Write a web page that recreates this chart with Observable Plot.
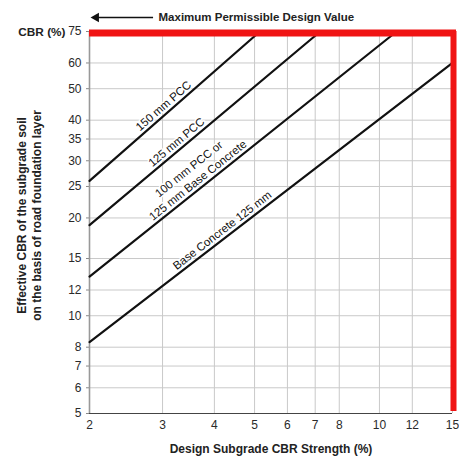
<!DOCTYPE html>
<html>
<head>
<meta charset="utf-8">
<script src="https://cdn.jsdelivr.net/npm/d3@7"></script>
<script src="https://cdn.jsdelivr.net/npm/@observablehq/plot@0.6"></script>
<style>
  html, body { margin: 0; padding: 0; background: #fff; }
</style>
</head>
<body>
<div id="chart"></div>
<script>
// Tick values
const xTicks = [2, 3, 4, 5, 6, 7, 8, 10, 12, 15];
const yTicks = [5, 6, 7, 8, 10, 12, 15, 20, 25, 30, 35, 40, 50, 60, 75];

// Design lines (x = design subgrade CBR, y = effective CBR)
const seriesNames = ["150 mm PCC", "125 mm PCC", "100 mm PCC or 125 mm Base Concrete", "Base Concrete 125 mm"];
const seriesX = [[2, 5.15], [2, 7.2], [2, 11], [2, 15]];
const seriesY = [[26, 75], [19, 75], [13.2, 75], [8.3, 60]];

// Line labels: text, where along its line (x value), text angle
const labelText = ["150 mm PCC", "125 mm PCC", "100 mm PCC or\n125 mm Base Concrete", "Base Concrete 125 mm"];
const labelAtX = [3.1, 3.33, 3.75, 4.29];
const labelAngle = [-41.3, -40, -38.6, -37.6];

// Maximum permissible design value
const maxCBR = 75;
const maxSubgrade = 15;

const lines = seriesNames.flatMap((name, i) =>
  seriesX[i].map((x, j) => ({name, x, y: seriesY[i][j]})));
// place each label on its own line (log-log straight line)
const labels = labelText.map((text, i) => {
  const [x1, x2] = seriesX[i], [y1, y2] = seriesY[i];
  const x = labelAtX[i];
  const y = y1 * Math.pow(y2 / y1, Math.log(x / x1) / Math.log(x2 / x1));
  return {text, x, y, angle: labelAngle[i]};
});

const font = "'Liberation Sans', Arial, Helvetica, sans-serif";

const chart = Plot.plot({
  width: 459,
  height: 459,
  marginLeft: 89,
  marginRight: 7,
  marginTop: 31,
  marginBottom: 46,
  style: {fontFamily: font, fontSize: "12px", background: "#fff", overflow: "visible", color: "#222"},
  x: {type: "log", domain: [2, 15], axis: null},
  y: {type: "log", domain: [5, 75]},
  marks: [
    Plot.gridX(xTicks, {stroke: "#c9c9c9", strokeOpacity: 1, strokeWidth: 1}),
    Plot.gridY(yTicks, {stroke: "#c9c9c9", strokeOpacity: 1, strokeWidth: 1}),
    Plot.text(xTicks, {x: d => d, text: d => String(d), frameAnchor: "bottom", dy: 12, lineAnchor: "middle", fontSize: 12, fill: "#2a2a2a"}),
    Plot.axisY(yTicks, {tickFormat: d => String(d), tickSize: 3, tickPadding: 5, label: null, fontSize: 12, stroke: "#888", fill: "#2a2a2a"}),
    Plot.ruleX([2], {stroke: "#999", strokeWidth: 1.6}),
    Plot.ruleY([5], {stroke: "#444", strokeWidth: 1.2}),
    Plot.line(lines, {x: "x", y: "y", z: "name", stroke: "#111", strokeWidth: 2.2}),
    Plot.text(labels, {x: "x", y: "y", text: "text", rotate: "angle", fontSize: 11.5, lineHeight: 1.25,
      fill: "#111", stroke: "#fff", strokeWidth: 3, textAnchor: "middle", lineAnchor: "bottom", dx: -2.5, dy: -3}),
    // red limit frame
    Plot.ruleY([maxCBR], {x1: 2, x2: maxSubgrade, stroke: "#f01414", strokeWidth: 7, dy: 1.5, insetRight: -4}),
    Plot.ruleX([maxSubgrade], {y1: 5, y2: maxCBR, stroke: "#f01414", strokeWidth: 6, dx: 1, insetTop: -2}),
    // header annotation
    Plot.ruleY([maxCBR], {x1: 2.07, x2: 2.854, dy: -14, stroke: "#111", strokeWidth: 1.3}),
    Plot.dot([maxCBR], {x: () => 2.075, y: d => d, symbol: "triangle", r: 3.6, rotate: -90, fill: "#111", stroke: "none", dy: -14}),
    Plot.text(["Maximum Permissible Design Value"], {x: () => 2.934, y: () => maxCBR, dy: -14, textAnchor: "start", lineAnchor: "middle",
      fontSize: 11.5, fontWeight: "bold", fill: "#222"}),
    Plot.text(["CBR (%)"], {frameAnchor: "top-left", dx: -24, dy: 1, textAnchor: "end", lineAnchor: "middle", fontSize: 11.8, fill: "#222", fontWeight: "bold"}),
    // axis titles
    Plot.text(["Design Subgrade CBR Strength (%)"], {frameAnchor: "bottom", dy: 36, lineAnchor: "middle", fontSize: 12, fontWeight: "bold", fill: "#222"}),
    Plot.text(["Effective CBR of the subgrade soil\non the basis of road foundation layer"], {frameAnchor: "left", dx: -60.5, dy: -7,
      rotate: -90, textAnchor: "middle", lineAnchor: "middle", lineHeight: 1.25, fontSize: 12, fontWeight: "bold", fill: "#222"})
  ]
});

document.getElementById("chart").append(chart);
</script>
</body>
</html>
